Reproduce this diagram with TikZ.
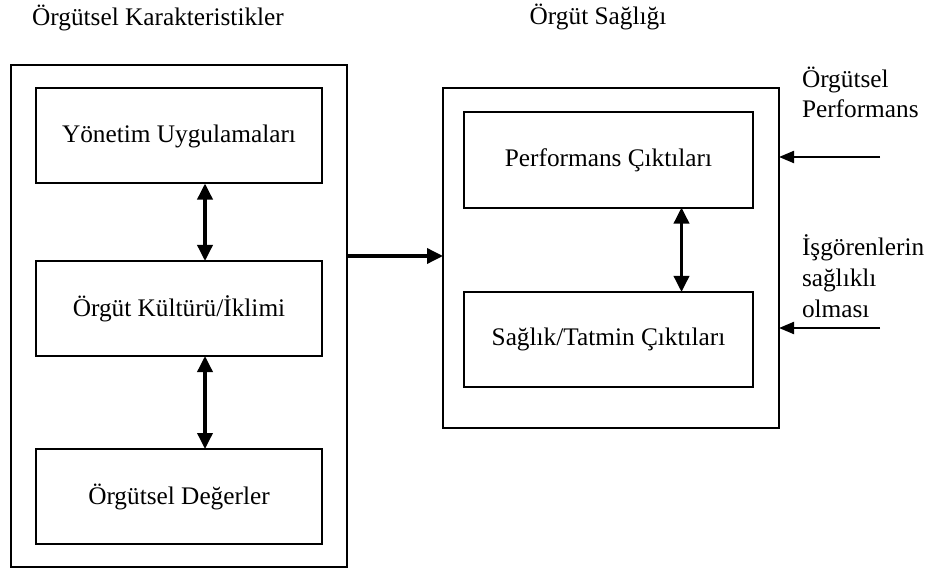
\documentclass[tikz,border=0pt]{standalone}
\usepackage{fontspec}
\setmainfont{Liberation Serif}
\usetikzlibrary{arrows.meta}
\begin{document}
\begin{tikzpicture}[x=1bp,y=-1bp,
  every node/.style={font=\fontsize{25.3bp}{30.5bp}\selectfont, inner sep=0pt, outer sep=0pt},
  frame/.style={draw, line width=2bp, rectangle},
  inbox/.style={frame, minimum width=286bp, minimum height=95bp},
  rbox/.style={frame, minimum width=289bp, minimum height=95bp},
  lbl/.style={anchor=base west, align=left},
  dbl/.style={line width=3.5bp, {Triangle[length=16bp,width=15bp]}-{Triangle[length=16bp,width=15bp]}},
  main/.style={line width=3.5bp, -{Triangle[length=16bp,width=15bp]}},
  thin/.style={line width=2bp, -{Triangle[length=15bp,width=12bp]}}
]
\useasboundingbox (0,0) rectangle (929,571);

% titles
\node[anchor=base] (t1) at (158,26) {Örgütsel Karakteristikler};
\node[anchor=base] (t2) at (598,25) {Örgüt Sağlığı};

% left group
\node[frame, minimum width=336bp, minimum height=502bp] (lo) at (179,316) {};
\node[inbox] (yon) at (179,136) {Yönetim Uygulamaları};
\node[inbox] (kul) at (179,308.5) {Örgüt Kültürü/İklimi};
\node[inbox] (deg) at (179,496.5) {Örgütsel Değerler};

% right group
\node[frame, minimum width=336bp, minimum height=340bp] (ro) at (611,258) {};
\node[rbox] (perf) at (608.5,160) {Performans Çıktıları};
\node[rbox] (sag) at (608.5,339.5) {Sağlık/Tatmin Çıktıları};

% side labels (anchored at the baseline of their last line)
\node[lbl] (l1) at (802,118) {Örgütsel\\Performans};
\node[lbl] (l2) at (802,317) {İşgörenlerin\\sağlıklı\\olması};

% connectors
\draw[dbl] ([xshift=26bp]yon.south) -- ([xshift=26bp]kul.north);
\draw[dbl] ([xshift=26bp]kul.south) -- ([xshift=26bp]deg.north);
\draw[dbl] ([xshift=73bp]perf.south) -- ([xshift=73bp]sag.north);
\draw[main] ([yshift=2bp]ro.west -| lo.east) -- ([yshift=2bp]ro.west);

\coordinate (e1) at (880,157);
\coordinate (e2) at (880,328);
\draw[thin] (e1) -- (e1 -| ro.east);
\draw[thin] (e2) -- (e2 -| ro.east);
\end{tikzpicture}
\end{document}
